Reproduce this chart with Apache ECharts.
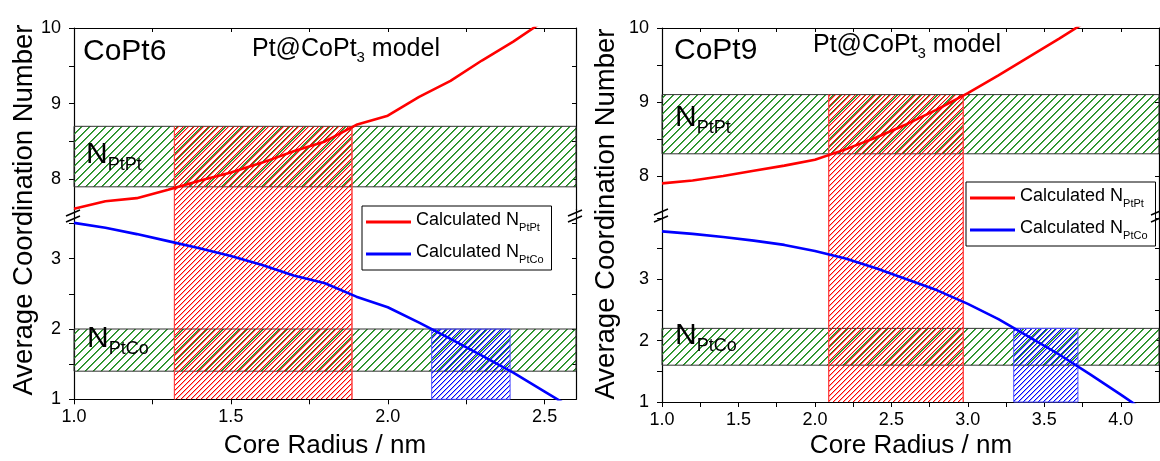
<!DOCTYPE html>
<html>
<head>
<meta charset="utf-8">
<script src="https://cdn.jsdelivr.net/npm/echarts@6/dist/echarts.min.js"></script>
<style>
  html, body { margin: 0; padding: 0; background: #fff; }
  #chart { width: 1160px; height: 461px; }
</style>
</head>
<body>
<div id="chart"></div>
<script>
// ---- CoPt6 (left panel) ----
const leftRadiusPtPt = [1.0, 1.1, 1.2, 1.3, 1.4, 1.5, 1.6, 1.7, 1.8, 1.9, 2.0, 2.1, 2.2, 2.3, 2.4, 2.5]
const leftPtPt = [7.61, 7.71, 7.75, 7.86, 7.98, 8.09, 8.22, 8.37, 8.5, 8.72, 8.84, 9.09, 9.3, 9.57, 9.82, 10.1]
const leftRadiusPtCo = [1.0, 1.1, 1.2, 1.3, 1.4, 1.5, 1.6, 1.7, 1.8, 1.9, 2.0, 2.1, 2.2, 2.3, 2.4, 2.5, 2.6]
const leftPtCo = [3.51, 3.44, 3.35, 3.25, 3.15, 3.04, 2.91, 2.76, 2.65, 2.46, 2.31, 2.09, 1.86, 1.62, 1.38, 1.11, 0.84]
const leftBandPtPt = [7.9, 8.7] // N PtPt experimental range
const leftBandPtCo = [1.4, 2.0] // N PtCo experimental range
const leftRedX = [1.32, 1.886]
const leftBlueX = [2.14, 2.39]

// ---- CoPt9 (right panel) ----
const rightRadiusPtPt = [1.0, 1.2, 1.4, 1.6, 1.8, 2.0, 2.2, 2.4, 2.6, 2.8, 3.0, 3.2, 3.4, 3.6, 3.8]
const rightPtPt = [7.9, 7.94, 8.0, 8.07, 8.14, 8.22, 8.36, 8.52, 8.7, 8.9, 9.12, 9.36, 9.61, 9.86, 10.12]
const rightRadiusPtCo = [1.0, 1.2, 1.4, 1.6, 1.8, 2.0, 2.2, 2.4, 2.6, 2.8, 3.0, 3.2, 3.4, 3.6, 3.8, 4.0, 4.2]
const rightPtCo = [3.78, 3.74, 3.69, 3.63, 3.56, 3.46, 3.34, 3.18, 3.0, 2.82, 2.6, 2.35, 2.06, 1.77, 1.45, 1.12, 0.78]
const rightBandPtPt = [8.3, 9.1]
const rightBandPtCo = [1.6, 2.2]
const rightRedX = [2.09, 2.97]
const rightBlueX = [3.3, 3.72]

const bandFloor = 0.96 // vertical bands go a bit below the axis

// ticks / labels
const leftXLabels = [1.0, 1.5, 2.0, 2.5]
const leftXTicks = [1.0, 1.25, 1.5, 1.75, 2.0, 2.25, 2.5]
const rightXLabels = [1.0, 1.5, 2.0, 2.5, 3.0, 3.5, 4.0]
const rightXTicks = [1.0, 1.25, 1.5, 1.75, 2.0, 2.25, 2.5, 2.75, 3.0, 3.25, 3.5, 3.75, 4.0]
const upperYLabels = [8, 9, 10]
const upperYTicks = [8, 8.5, 9, 9.5, 10]
const lowerYLabels = [1, 2, 3]
const lowerYTicks = [1, 1.5, 2, 2.5, 3, 3.5, 4]

const FONT = 'Liberation Sans, Arial, sans-serif'

// pixel diagonal hatch ("/"), one line per tile
function hatch(color, step, second) {
  const c = document.createElement('canvas')
  c.width = step
  c.height = step
  const g = c.getContext('2d')
  g.fillStyle = color
  for (let y = 0; y < step; y++) {
    const x = step - 1 - y
    g.globalAlpha = 1
    g.fillRect(x, y, 1, 1)
    g.globalAlpha = second
    g.fillRect((x + 1) % step, y, 1, 1)
  }
  return { image: c, repeat: 'repeat' }
}
const greenFill = hatch('#1e8c1e', 8, 0.8)
const redFill = hatch('#ff0000', 5, 0.35)
const blueFill = hatch('#0000ff', 5, 0.35)

const greenStyle = { color: greenFill, opacity: 1, borderColor: '#333', borderWidth: 1 }
const redStyle = { color: redFill, opacity: 1, borderWidth: 0 }
const redEdge = { color: 'rgba(0,0,0,0)', opacity: 1, borderColor: '#ff4040', borderWidth: 1 }
const blueStyle = { color: blueFill, opacity: 1, borderColor: '#5050ff', borderWidth: 1 }

const axisLineStyle = { color: '#000', width: 1.2 }

function xTop(grid, min, max, ticks) {
  return {
    type: 'value', gridIndex: grid, position: 'top', min: min, max: max,
    axisLine: { show: true, onZero: false, lineStyle: axisLineStyle },
    axisTick: { show: true, inside: true, length: 4, customValues: ticks, lineStyle: { color: '#000' } },
    axisLabel: { show: false },
    splitLine: { show: false }
  }
}
function xBottom(grid, min, max, ticks, labels) {
  return {
    type: 'value', gridIndex: grid, position: 'bottom', min: min, max: max,
    axisLine: { show: true, onZero: false, lineStyle: axisLineStyle },
    axisTick: { show: true, inside: false, length: 5, customValues: ticks, lineStyle: { color: '#000' } },
    axisLabel: {
      customValues: labels, margin: 9, color: '#000', fontSize: 18, fontFamily: FONT,
      formatter: v => v.toFixed(1)
    },
    splitLine: { show: false }
  }
}
function yLeft(grid, min, max, ticks, labels) {
  return {
    type: 'value', gridIndex: grid, position: 'left', min: min, max: max,
    axisLine: { show: true, onZero: false, lineStyle: axisLineStyle },
    axisTick: { show: true, inside: false, length: 5, customValues: ticks, lineStyle: { color: '#000' } },
    axisLabel: { customValues: labels, margin: 13, color: '#000', fontSize: 18, fontFamily: FONT },
    splitLine: { show: false }
  }
}
function yRight(grid, min, max, ticks) {
  return {
    type: 'value', gridIndex: grid, position: 'right', min: min, max: max,
    axisLine: { show: true, onZero: false, lineStyle: axisLineStyle },
    axisTick: { show: true, inside: true, length: 4, customValues: ticks, lineStyle: { color: '#000' } },
    axisLabel: { show: false },
    splitLine: { show: false }
  }
}

function pairs(xs, ys) {
  return xs.map((x, i) => [x, ys[i]])
}

// axis ranges of the broken y axes
const leftUpper = [7.6, 10]
const leftLower = [1, 3.7]
const rightUpper = [7.5, 10]
const rightLower = [1, 4.08]

// red band crossing the axis break: fill plus two vertical edges (no horizontal edge at the break)
function redBand(xs, top) {
  return [
    [{ xAxis: xs[0], yAxis: bandFloor, itemStyle: redStyle }, { xAxis: xs[1], yAxis: top }],
    [{ xAxis: xs[0], yAxis: bandFloor, itemStyle: redEdge }, { xAxis: xs[0], yAxis: top }],
    [{ xAxis: xs[1], yAxis: bandFloor, itemStyle: redEdge }, { xAxis: xs[1], yAxis: top }]
  ]
}

function lineSeries(name, color, xi, yi, data, areas) {
  return {
    name: name, type: 'line', xAxisIndex: xi, yAxisIndex: yi,
    symbol: 'none', smooth: false, silent: true, clip: true,
    lineStyle: { color: color, width: 2.6 },
    itemStyle: { color: color },
    data: data, z: 5,
    markArea: { silent: true, data: areas }
  }
}

const legendRich = {
  a: { fontSize: 18, lineHeight: 22, verticalAlign: 'top', fontFamily: FONT, color: '#000' },
  s: { fontSize: 11, lineHeight: 10, verticalAlign: 'bottom', fontFamily: FONT, color: '#000' }
}
function legendBox(left, top) {
  return {
    orient: 'vertical', left: left, top: top,
    padding: [5, 8, 5, 4], itemGap: 10, itemWidth: 45, itemHeight: 3,
    icon: 'rect',
    borderColor: '#000', borderWidth: 1, backgroundColor: '#fff',
    selectedMode: false,
    data: ['Calculated N_PtPt', 'Calculated N_PtCo'],
    formatter: n => '{a|Calculated N}{s|' + n.split('_')[1] + '}',
    textStyle: { rich: legendRich }
  }
}

function label(x, y, text, rich) {
  return { type: 'text', x: x, y: y, silent: true, z: 50,
    style: { text: text, rich: rich, fill: '#000', font: '24px ' + FONT, verticalAlign: 'middle' } }
}
const nRich = {
  n: { fontSize: 30, lineHeight: 34, verticalAlign: 'top', fontFamily: FONT },
  s: { fontSize: 18, lineHeight: 17, verticalAlign: 'bottom', fontFamily: FONT }
}
const modelRich = {
  a: { fontSize: 25, lineHeight: 29, verticalAlign: 'top', fontFamily: FONT },
  s: { fontSize: 15, lineHeight: 12, verticalAlign: 'bottom', fontFamily: FONT }
}
const nameRich = { a: { fontSize: 30, fontFamily: FONT } }

function axisTitle(x, y, text, vertical) {
  return { type: 'text', x: x, y: y, rotation: vertical ? Math.PI / 2 : 0, silent: true,
    style: { text: text, font: (vertical ? 27.5 : 26) + 'px ' + FONT, fill: '#000', align: 'center', verticalAlign: 'middle' } }
}

function breakMark(x, y) {
  return { type: 'line', silent: true, z: 60,
    shape: { x1: x - 8, y1: y + 3, x2: x + 6, y2: y - 3 },
    style: { stroke: '#000', lineWidth: 1.5 } }
}

const chartDom = document.getElementById('chart')
const myChart = echarts.init(chartDom)
const option = {
  animation: false,
  backgroundColor: '#fff',
  grid: [
    { left: 74, top: 28, width: 502, height: 181.5 },
    { left: 74, top: 209.5, width: 502, height: 189.8 },
    { left: 662, top: 28, width: 497, height: 185 },
    { left: 662, top: 213, width: 497, height: 189 }
  ],
  xAxis: [
    xTop(0, 1, 2.6, leftXTicks),
    xBottom(1, 1, 2.6, leftXTicks, leftXLabels),
    xTop(2, 1, 4.25, rightXTicks),
    xBottom(3, 1, 4.25, rightXTicks, rightXLabels)
  ],
  yAxis: [
    yLeft(0, leftUpper[0], leftUpper[1], upperYTicks, upperYLabels),
    yRight(0, leftUpper[0], leftUpper[1], upperYTicks),
    yLeft(1, leftLower[0], leftLower[1], lowerYTicks, lowerYLabels),
    yRight(1, leftLower[0], leftLower[1], lowerYTicks),
    yLeft(2, rightUpper[0], rightUpper[1], upperYTicks, upperYLabels),
    yRight(2, rightUpper[0], rightUpper[1], upperYTicks),
    yLeft(3, rightLower[0], rightLower[1], lowerYTicks, lowerYLabels),
    yRight(3, rightLower[0], rightLower[1], lowerYTicks)
  ],
  legend: [legendBox(362, 206), legendBox(966, 182)],
  series: [
    lineSeries('Calculated N_PtPt', '#ff0000', 0, 0, pairs(leftRadiusPtPt, leftPtPt), [
      [{ yAxis: leftBandPtPt[0], itemStyle: greenStyle }, { yAxis: leftBandPtPt[1] }]
    ].concat(redBand(leftRedX, leftBandPtPt[1]))),
    lineSeries('Calculated N_PtCo', '#0000ff', 1, 2, pairs(leftRadiusPtCo, leftPtCo), [
      [{ yAxis: leftBandPtCo[0], itemStyle: greenStyle }, { yAxis: leftBandPtCo[1] }],
      [{ xAxis: leftBlueX[0], yAxis: bandFloor, itemStyle: blueStyle }, { xAxis: leftBlueX[1], yAxis: leftBandPtCo[1] }]
    ].concat(redBand(leftRedX, leftBandPtPt[1]))),
    lineSeries('Calculated N_PtPt', '#ff0000', 2, 4, pairs(rightRadiusPtPt, rightPtPt), [
      [{ yAxis: rightBandPtPt[0], itemStyle: greenStyle }, { yAxis: rightBandPtPt[1] }]
    ].concat(redBand(rightRedX, rightBandPtPt[1]))),
    lineSeries('Calculated N_PtCo', '#0000ff', 3, 6, pairs(rightRadiusPtCo, rightPtCo), [
      [{ yAxis: rightBandPtCo[0], itemStyle: greenStyle }, { yAxis: rightBandPtCo[1] }],
      [{ xAxis: rightBlueX[0], yAxis: bandFloor, itemStyle: blueStyle }, { xAxis: rightBlueX[1], yAxis: rightBandPtCo[1] }]
    ].concat(redBand(rightRedX, rightBandPtPt[1])))
  ],
  graphic: [
    label(83, 52, '{a|CoPt6}', nameRich),
    label(252, 51, '{a|Pt@CoPt}{s|3}{a| model}', modelRich),
    label(86, 157, '{n|N}{s|PtPt}', nRich),
    label(87, 341, '{n|N}{s|PtCo}', nRich),
    label(674, 51, '{a|CoPt9}', nameRich),
    label(813, 47, '{a|Pt@CoPt}{s|3}{a| model}', modelRich),
    label(675, 120, '{n|N}{s|PtPt}', nRich),
    label(675, 338, '{n|N}{s|PtCo}', nRich),
    axisTitle(24, 210, 'Average Coordination Number', true),
    axisTitle(606, 214, 'Average Coordination Number', true),
    axisTitle(325, 446, 'Core Radius / nm', false),
    axisTitle(911, 446, 'Core Radius / nm', false),
    breakMark(74, 213), breakMark(74, 219),
    breakMark(576, 213), breakMark(576, 219),
    breakMark(662, 212), breakMark(662, 219),
    breakMark(1159, 212), breakMark(1159, 219)
  ]
}
option && myChart.setOption(option)
</script>
</body>
</html>
